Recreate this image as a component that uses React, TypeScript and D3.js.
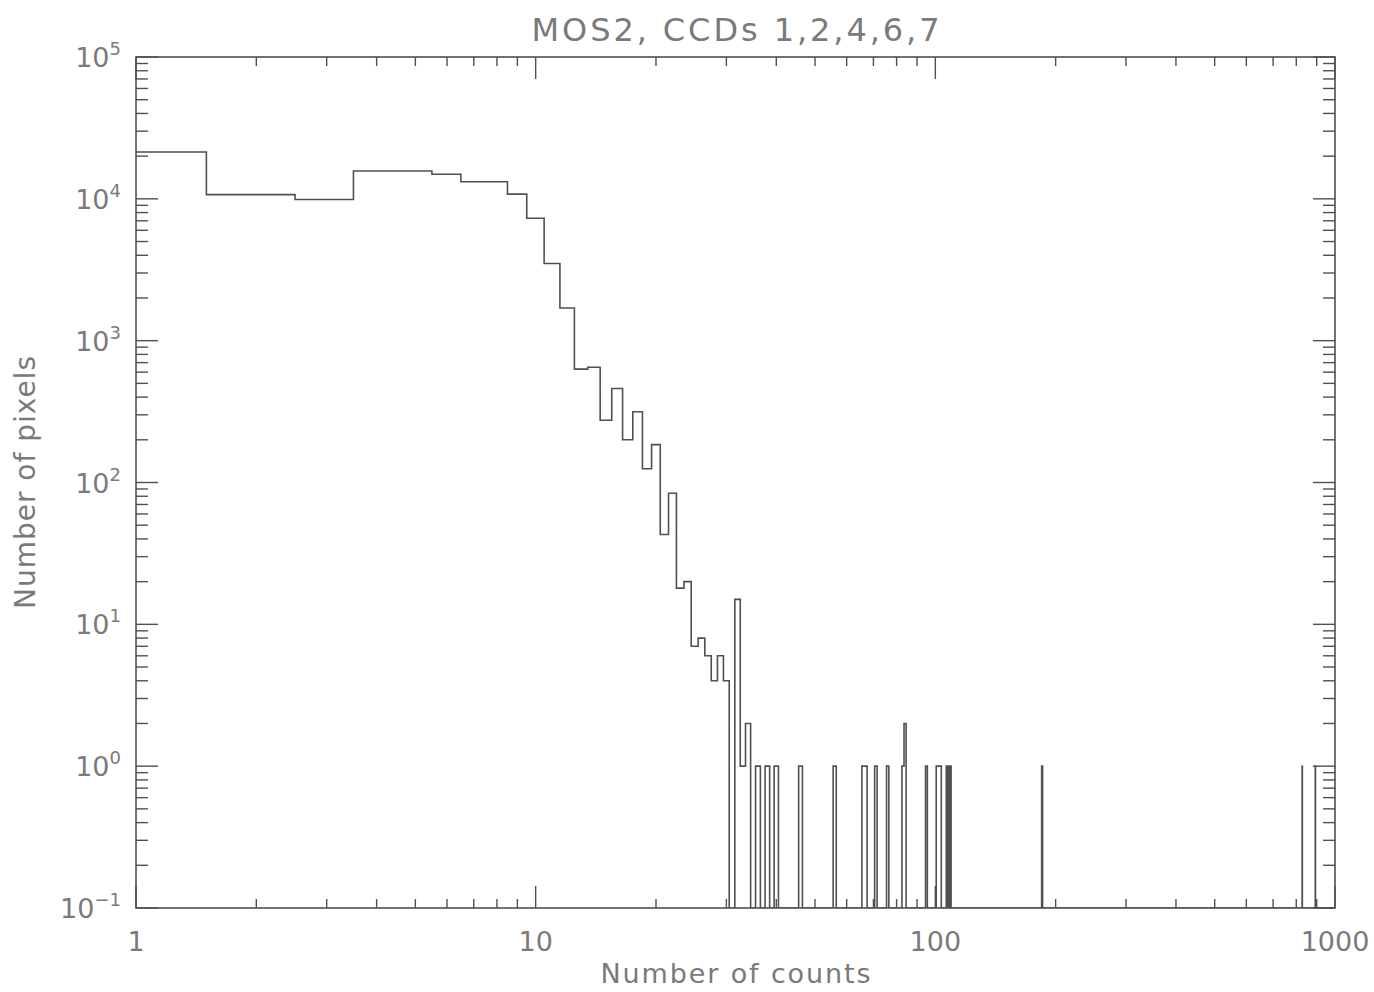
import React from 'react';
import * as d3 from 'd3';

// pixel counts per count value 1..40
const mainCounts = [
  21400, 10700, 9900, 15700, 15700, 14900, 13200, 13200, 10800, 7300,
  3500, 1700, 630, 650, 275, 460, 200, 315, 125, 185,
  43, 84, 18, 20, 7, 8, 6, 4, 6, 4,
  0, 15, 1, 2, 0, 1, 0, 1, 0, 1,
];

// sparse tail above 40 counts
const tailCounts = [46, 56, 66, 67, 71, 76, 83, 84, 95, 101, 102, 103, 107, 109, 185, 828, 893];
const tailPixels = [1, 1, 1, 1, 1, 1, 1, 2, 1, 1, 1, 1, 1, 1, 1, 1, 1];

const maxCount = 1000;
const xTickLabels = ['1', '10', '100', '1000'];
const yExponents = [-1, 0, 1, 2, 3, 4, 5];

const title = 'MOS2, CCDs 1,2,4,6,7';
const xTitle = 'Number of counts';
const yTitle = 'Number of pixels';

const W = 1374;
const H = 992;
const m = { left: 136, right: 1335, top: 57, bottom: 908 };

const font = 'DejaVu Sans, sans-serif';
const textColor = '#7a7a7a';
const lineColor = '#505050';

export default function App() {
  const x = d3.scaleLog().domain([1, 1000]).range([m.left, m.right]);
  const y = d3.scaleLog().domain([0.1, 1e5]).range([m.bottom, m.top]);

  const values: number[] = [];
  for (let n = 1; n <= maxCount; n++) {
    if (n <= mainCounts.length) values.push(mainCounts[n - 1]);
    else {
      const k = tailCounts.indexOf(n);
      values.push(k >= 0 ? tailPixels[k] : 0);
    }
  }

  // histogram steps, bins centred on integers
  const pts: [number, number][] = values.map((v, i) => [i === 0 ? 1 : i + 0.5, v]);
  pts.push([maxCount + 0.5, values[values.length - 1]]);
  const line = d3
    .line<[number, number]>()
    .x((d) => x(d[0]))
    .y((d) => y(Math.max(d[1], 0.1)))
    .curve(d3.curveStepAfter);

  const xTicks = x.ticks();
  const yTicks = y.ticks();
  const isMajor = (v: number) => Math.abs(Math.log10(v) - Math.round(Math.log10(v))) < 1e-9;

  return (
    <svg width={W} height={H} style={{ position: 'absolute', left: 0, top: 0, background: '#fff' }}>
      <defs>
        <clipPath id="plot">
          <rect x={m.left} y={m.top} width={m.right - m.left} height={m.bottom - m.top} />
        </clipPath>
      </defs>

      <text x={(m.left + m.right) / 2} y={41} textAnchor="middle" fontFamily={font} fontSize={32}
        fill={textColor} textLength={408} lengthAdjust="spacing">{title}</text>

      <path d={line(pts) || ''} fill="none" stroke={lineColor} strokeWidth={1.6} clipPath="url(#plot)" />

      {/* frame */}
      <rect x={m.left} y={m.top} width={m.right - m.left} height={m.bottom - m.top}
        fill="none" stroke={lineColor} strokeWidth={1.6} />

      {xTicks.map((t, i) => {
        const len = isMajor(t) ? 22 : 9;
        const px = x(t);
        return (
          <g key={'x' + i} stroke={lineColor} strokeWidth={1.4}>
            <line x1={px} x2={px} y1={m.bottom} y2={m.bottom - len} />
            <line x1={px} x2={px} y1={m.top} y2={m.top + len} />
          </g>
        );
      })}
      {yTicks.map((t, i) => {
        const len = isMajor(t) ? 22 : 12;
        const py = y(t);
        return (
          <g key={'y' + i} stroke={lineColor} strokeWidth={1.4}>
            <line x1={m.left} x2={m.left + len} y1={py} y2={py} />
            <line x1={m.right} x2={m.right - len} y1={py} y2={py} />
          </g>
        );
      })}

      {xTickLabels.map((s) => (
        <text key={s} x={x(+s)} y={951} textAnchor="middle" fontFamily={font} fontSize={27}
          fill={textColor}>{s}</text>
      ))}
      {yExponents.map((e) => (
        <text key={e} x={121} y={y(Math.pow(10, e)) + 10} textAnchor="end" fontFamily={font}
          fontSize={27} fill={textColor}>
          10<tspan dy={-12} fontSize={18}>{e < 0 ? '\u2212' + -e : String(e)}</tspan>
        </text>
      ))}

      <text x={(m.left + m.right) / 2} y={983} textAnchor="middle" fontFamily={font} fontSize={27}
        fill={textColor} textLength={270} lengthAdjust="spacing">{xTitle}</text>
      <text transform={`translate(35,${(m.top + m.bottom) / 2}) rotate(-90)`} textAnchor="middle"
        fontFamily={font} fontSize={28} fill={textColor} textLength={253} lengthAdjust="spacing">{yTitle}</text>
    </svg>
  );
}
